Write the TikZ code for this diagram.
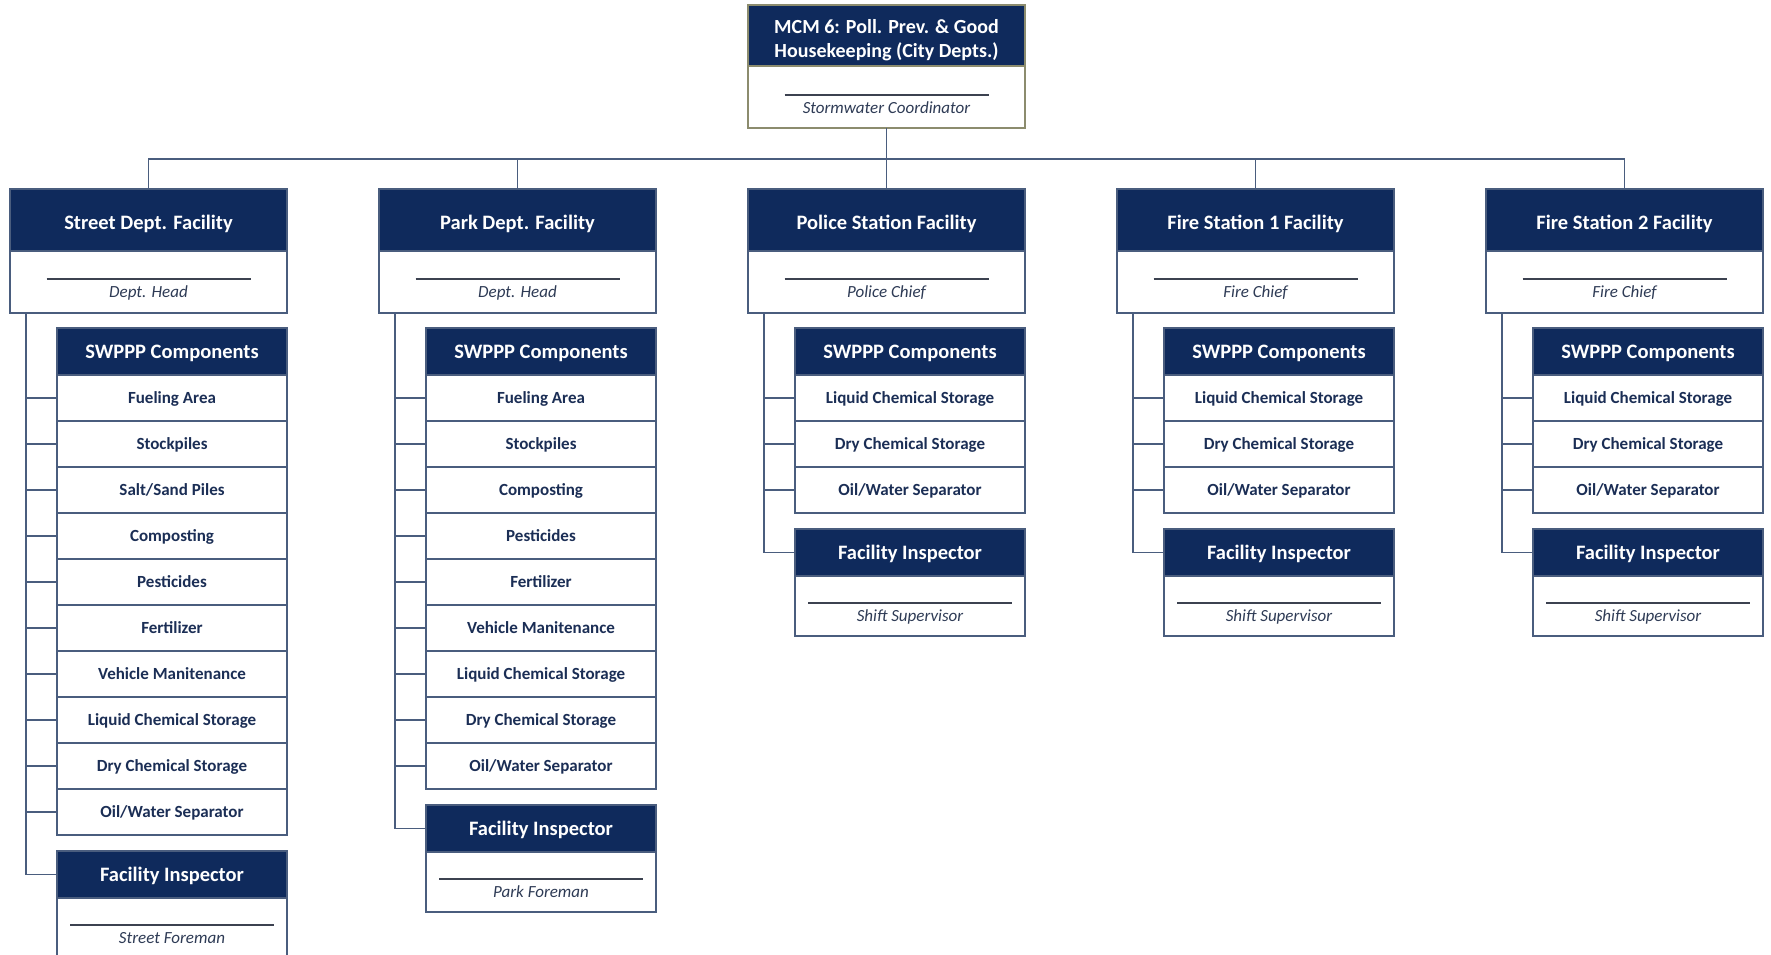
\documentclass[tikz,border=0pt]{standalone}
\usepackage{fontspec}
\setmainfont{Carlito}
\definecolor{navy}{HTML}{0F2A5C}
\definecolor{bord}{HTML}{4A5D7E}
\definecolor{rowtxt}{HTML}{1B2E55}
\definecolor{roletxt}{HTML}{2E3B55}
\definecolor{ulcol}{HTML}{3C4250}
\definecolor{topbord}{HTML}{8C8C6E}
\tikzset{
  box/.style={draw=bord, line width=1.5pt, anchor=north west, inner sep=0pt, outer sep=0pt},
  hdr/.style={box, fill=navy, text=white, font=\fontsize{20.5}{25}\selectfont\bfseries, minimum width=277pt, minimum height=62pt, text height=19pt, text depth=0pt},
  bodybox/.style={box, fill=white, minimum width=277pt, minimum height=62pt},
  swhdr/.style={box, fill=navy, text=white, font=\fontsize{20.5}{25}\selectfont\bfseries, minimum width=230pt, minimum height=47pt, text height=14pt, text depth=0pt},
  rowbox/.style={box, fill=white, text=rowtxt, font=\fontsize{17}{20}\selectfont\bfseries, minimum width=230pt, minimum height=46pt, text height=11.2pt, text depth=0pt},
  fibody/.style={box, fill=white, minimum width=230pt, minimum height=60pt},
  role/.style={text=roletxt, font=\fontsize{17}{20}\selectfont\itshape, inner sep=0pt, text height=11.2pt, text depth=0pt},
  ul/.style={draw=ulcol, line width=1.2pt},
  conn/.style={draw=bord, line width=1.5pt},
}
\newcommand\facbox[4]{%
  \node[hdr] (#1h) at (#2,189) {#3};
  \node[bodybox] (#1b) at (#1h.south west) {};
  \draw[ul] ([xshift=-102pt,yshift=-28pt]#1b.north) -- ([xshift=102pt,yshift=-28pt]#1b.north);
  \node[role] (#1r) at ([yshift=-41pt]#1b.north) {#4};
  \coordinate (#1v) at ([xshift=16pt]#1b.south west);
}
\newcommand\swbox[3]{%
  \node[swhdr] (#1sw) at ({#2+47},328) {SWPPP Components};
  \foreach \t [count=\i] in {#3} {
    \node[rowbox] (#1row\i) at ({#2+47},{375+46*(\i-1)}) {\t};
    \draw[conn] (#1row\i.west) -- (#1row\i.west -| #1v);
  }
}
\newcommand\fibox[4]{%
  \node[swhdr] (#1fih) at ({#2+47},#3) {Facility Inspector};
  \node[fibody] (#1fib) at (#1fih.south west) {};
  \draw[ul] ([xshift=-102pt,yshift=-27pt]#1fib.north) -- ([xshift=102pt,yshift=-27pt]#1fib.north);
  \node[role] (#1fir) at ([yshift=-40pt]#1fib.north) {#4};
  \draw[conn] (#1v) |- (#1fih.west);
}
\begin{document}
\begin{tikzpicture}[x=1pt,y=-1pt]
\useasboundingbox (0,0) rectangle (1771,955);
% top box
\node[box, fill=navy, draw=topbord, minimum width=277pt, minimum height=61pt] (toph) at (748,5) {};
\node[text=white, font=\fontsize{20}{24.5}\selectfont\bfseries, align=center, inner sep=0pt, text depth=0pt, anchor=south] (toptitle) at (886.5,58) {MCM 6: Poll. Prev. \& Good\\Housekeeping (City Depts.)};
\node[bodybox, draw=topbord] (topb) at (toph.south west) {};
\draw[ul] ([xshift=-102pt,yshift=-29pt]topb.north) -- ([xshift=102pt,yshift=-29pt]topb.north);
\node[role] (topr) at ([yshift=-42pt]topb.north) {Stormwater Coordinator};
% facilities
\facbox{sd}{10}{Street Dept. Facility}{Dept. Head}
\facbox{pk}{379}{Park Dept. Facility}{Dept. Head}
\facbox{po}{748}{Police Station Facility}{Police Chief}
\facbox{fa}{1117}{Fire Station 1 Facility}{Fire Chief}
\facbox{fb}{1486}{Fire Station 2 Facility}{Fire Chief}
% bus
\draw[conn] (topb.south) -- (poh.north);
\draw[conn] (sdh.north) -- ++(0,-30) -| (fbh.north);
\draw[conn] (pkh.north) -- ++(0,-30);
\draw[conn] (fah.north) -- ++(0,-30);
% components
\swbox{sd}{10}{Fueling Area,Stockpiles,Salt/Sand Piles,Composting,Pesticides,Fertilizer,Vehicle Manitenance,Liquid Chemical Storage,Dry Chemical Storage,Oil/Water Separator}
\swbox{pk}{379}{Fueling Area,Stockpiles,Composting,Pesticides,Fertilizer,Vehicle Manitenance,Liquid Chemical Storage,Dry Chemical Storage,Oil/Water Separator}
\swbox{po}{748}{Liquid Chemical Storage,Dry Chemical Storage,Oil/Water Separator}
\swbox{fa}{1117}{Liquid Chemical Storage,Dry Chemical Storage,Oil/Water Separator}
\swbox{fb}{1486}{Liquid Chemical Storage,Dry Chemical Storage,Oil/Water Separator}
% inspectors
\fibox{sd}{10}{851}{Street Foreman}
\fibox{pk}{379}{805}{Park Foreman}
\fibox{po}{748}{529}{Shift Supervisor}
\fibox{fa}{1117}{529}{Shift Supervisor}
\fibox{fb}{1486}{529}{Shift Supervisor}
\end{tikzpicture}
\end{document}
